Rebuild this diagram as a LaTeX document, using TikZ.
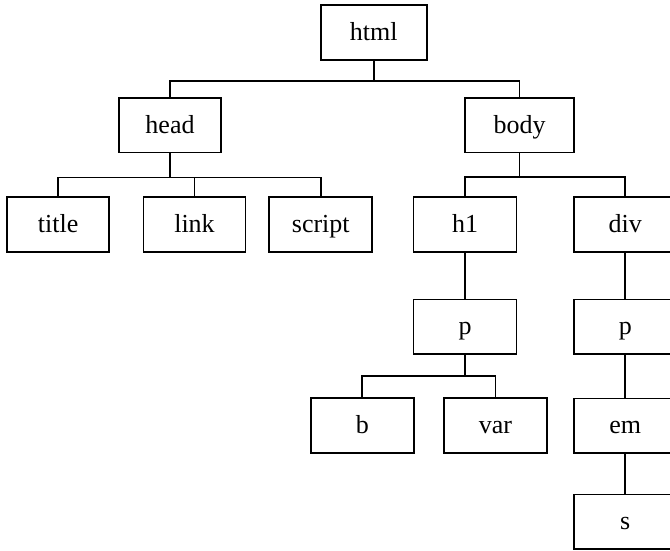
\documentclass[tikz,border=0pt]{standalone}
\usepackage{fontspec}
\setmainfont{Liberation Serif}
\begin{document}
\begin{tikzpicture}[x=1pt,y=-1pt,
  tbox/.style={draw=black,line width=1.7pt,rectangle,minimum width=103pt,minimum height=54.5pt,inner sep=0pt,text height=18pt,text depth=2pt,font=\fontsize{26}{30}\selectfont},
  conn/.style={line width=1.7pt,black}]
\useasboundingbox (0,0) rectangle (670,550);
\clip (0,0) rectangle (670,550);
\node[tbox,minimum width=106pt,minimum height=55pt] (html) at (373.7,32.3) {html};
\node[tbox,minimum width=102pt] (head) at (170,125.2) {head};
\node[tbox,minimum width=109pt] (body) at (519.5,125.2) {body};
\node[tbox,minimum width=102pt] (title) at (58.2,224.4) {title};
\node[tbox,minimum width=102pt] (link) at (194.5,224.4) {link};
\node[tbox] (script) at (320.8,224.4) {script};
\node[tbox] (h1) at (465,224.4) {h1};
\node[tbox] (div) at (625.3,224.4) {div};
\node[tbox] (p1) at (465,326.7) {p};
\node[tbox] (p2) at (625.3,326.7) {p};
\node[tbox] (b) at (362.3,425.5) {b};
\node[tbox] (var) at (495.5,425.5) {var};
\node[tbox] (em) at (625.3,425.8) {em};
\node[tbox] (s) at (625.3,521.7) {s};
\coordinate (j1) at (373.7,80.7);
\coordinate (j2) at (170,177.5);
\coordinate (j3) at (519.5,176.7);
\coordinate (j4) at (465,376.3);
\draw[conn] (html.south) -- (j1);
\draw[conn] (head.north) |- (j1) -| (body.north);
\draw[conn] (head.south) -- (j2);
\draw[conn] (title.north) |- (j2) -| (script.north);
\draw[conn] (link.north) -- (link.north |- j2);
\draw[conn] (body.south) -- (j3);
\draw[conn] (h1.north) |- (j3) -| (div.north);
\draw[conn] (h1.south) -- (p1.north);
\draw[conn] (div.south) -- (p2.north);
\draw[conn] (p2.south) -- (em.north);
\draw[conn] (em.south) -- (s.north);
\draw[conn] (p1.south) -- (j4);
\draw[conn] (b.north) |- (j4) -| (var.north);
\end{tikzpicture}
\end{document}
